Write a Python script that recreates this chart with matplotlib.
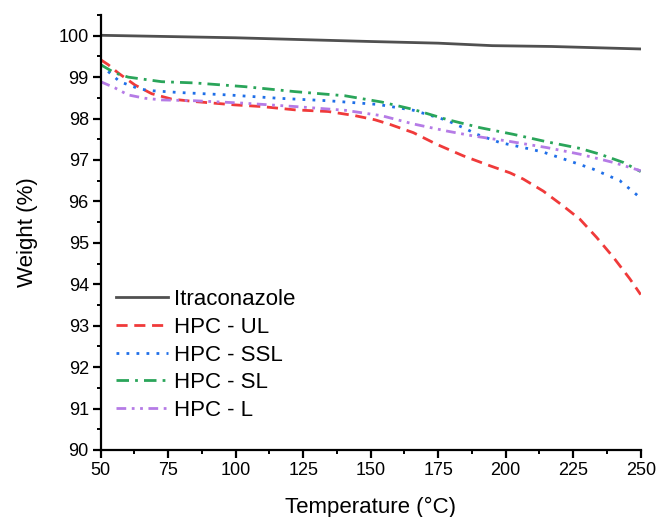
import matplotlib
matplotlib.use("Agg")
import matplotlib.pyplot as plt
from matplotlib.ticker import MultipleLocator

plt.rcParams['font.family'] = ['Liberation Sans', 'DejaVu Sans']

temp_itra = [50, 100, 150, 175, 195, 217, 250]
w_itra = [100.01, 99.95, 99.86, 99.82, 99.76, 99.74, 99.68]

temp_ul = [50, 52.8, 56.5, 62.7, 68.9, 76.3, 84.9, 99.7, 109.6, 122, 134.3, 144.2, 151.6, 157.1, 165.8, 174.4, 184.3,
           194.2, 201.6, 206.5, 213.9, 221.3, 227.5, 233.7, 239.9, 246, 250]
w_ul = [99.42, 99.30, 99.10, 98.81, 98.60, 98.47, 98.41, 98.33, 98.29, 98.21, 98.17, 98.07, 97.97, 97.86, 97.66, 97.38, 97.10,
        96.86, 96.69, 96.54, 96.25, 95.89, 95.57, 95.13, 94.65, 94.13, 93.75]

temp_ssl = [50, 53.4, 57.1, 64.6, 69.5, 78.7, 97.3, 115.8, 134.3, 152.8, 165.8, 178.1, 185.6, 189.3, 197.9, 205.9,
            213.9, 222.6, 232.4, 242.3, 250]
w_ssl = [99.30, 99.10, 98.89, 98.71, 98.67, 98.63, 98.57, 98.49, 98.43, 98.34, 98.20, 97.96, 97.74, 97.62, 97.42, 97.31,
         97.19, 97.00, 96.78, 96.50, 96.08]

temp_sl = [50, 55.3, 60.2, 72.6, 84.9, 103.4, 122, 140.5, 154, 165.8, 178.1, 190.5, 202.8, 215.2, 227.5, 234.9, 243.6, 250]
w_sl = [99.30, 99.10, 99.00, 98.89, 98.86, 98.77, 98.65, 98.55, 98.40, 98.22, 97.98, 97.78, 97.62, 97.44, 97.28, 97.14,
        96.94, 96.72]

temp_l = [50, 55.3, 60.2, 66.4, 72.6, 84.9, 103.4, 122, 140.5, 154, 165.8, 178.1, 188, 200.4, 215.2, 227.5, 239.9, 250]
w_l = [98.89, 98.74, 98.57, 98.49, 98.45, 98.43, 98.37, 98.29, 98.20, 98.07, 97.87, 97.70, 97.58, 97.46, 97.30, 97.14,
       96.94, 96.74]

labels = ['Itraconazole', 'HPC - UL', 'HPC - SSL', 'HPC - SL', 'HPC - L']
colors = ['#505050', '#f03a3a', '#1f6fe8', '#2aa55a', '#b57be6']
x_ticks = [50, 75, 100, 125, 150, 175, 200, 225, 250]
y_ticks = [90, 91, 92, 93, 94, 95, 96, 97, 98, 99, 100]

fig = plt.figure(figsize=(6.58, 5.17), dpi=100)
ax = fig.add_axes([0.153, 0.1296, 0.8207, 0.8414])

lw = 2.0
ax.plot(temp_itra, w_itra, color=colors[0], lw=lw, ls='-', label=labels[0])
ax.plot(temp_ul, w_ul, color=colors[1], lw=lw, ls=(0, (4, 2.4)), label=labels[1])
ax.plot(temp_ssl, w_ssl, color=colors[2], lw=lw, ls=(0, (1, 2.6)), label=labels[2])
ax.plot(temp_sl, w_sl, color=colors[3], lw=lw, ls=(0, (4.5, 2.2, 1, 2.2)), label=labels[3])
ax.plot(temp_l, w_l, color=colors[4], lw=lw, ls=(0, (3.5, 2, 1, 2, 1, 2)), label=labels[4])

ax.set_xlim(50, 250)
ax.set_ylim(90, 100.5)
ax.set_xticks(x_ticks)
ax.set_yticks(y_ticks)
ax.xaxis.set_minor_locator(MultipleLocator(12.5))
ax.yaxis.set_minor_locator(MultipleLocator(0.5))
ax.spines['top'].set_visible(False)
ax.spines['right'].set_visible(False)
for s in ['left', 'bottom']:
    ax.spines[s].set_linewidth(1.6)
ax.tick_params(which='major', direction='out', length=5.5, width=1.6, labelsize=13, pad=3)
ax.tick_params(which='minor', direction='out', length=3, width=1.4)

ax.set_xlabel('Temperature (°C)', fontsize=16, labelpad=13)
ax.set_ylabel('Weight (%)', fontsize=16, labelpad=15)

leg = ax.legend(loc='upper left', bbox_to_anchor=(0.011, 0.39), frameon=False,
                fontsize=16, handlelength=2.35, handletextpad=0.27, labelspacing=0.3,
                borderaxespad=0)

fig.savefig('out.png', dpi=100)
